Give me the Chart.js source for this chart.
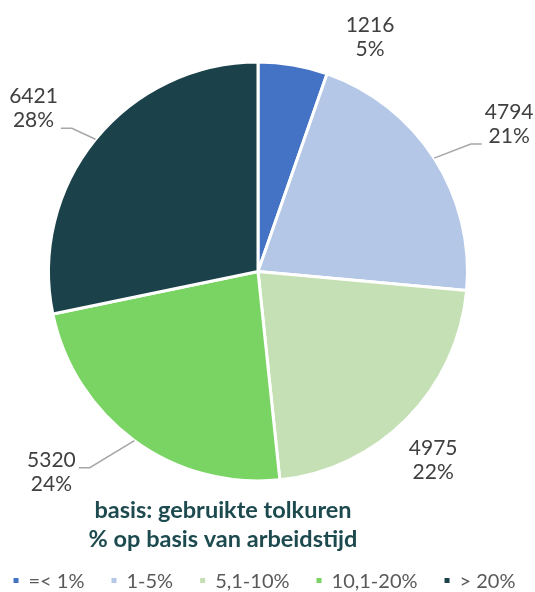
<!DOCTYPE html>
<html>
<head>
<meta charset="utf-8">
<script src="https://cdn.jsdelivr.net/npm/chart.js@4"></script>
<style>
  html, body { margin: 0; padding: 0; background: #fff; }
</style>
</head>
<body>
<canvas id="pieChart" width="535" height="592"></canvas>
<script>
const categories = ['=< 1%', '1-5%', '5,1-10%', '10,1-20%', '> 20%'];
const hours = [1216, 4794, 4975, 5320, 6421];
const shares = ['5%', '21%', '22%', '24%', '28%'];
const colors = ['#4472C4', '#B4C7E7', '#C5E0B4', '#7AD464', '#1B424A'];
const titleLines = ['basis: gebruikte tolkuren', '% op basis van arbeidstijd'];

// label offsets from the slice's outer edge (dragged labels), leader = y of the elbow or null
const labelShift = [
  { dx: 77, dy: -28, leader: null },
  { dx: 75, dy: -34, leader: 20 },
  { dx: 26, dy: 42, leader: null },
  { dx: -83, dy: 32, leader: -5 },
  { dx: -62, dy: -31, leader: 20 }
];

const sliceLabels = {
  id: 'sliceLabels',
  afterDraw(chart) {
    const ctx = chart.ctx;
    const values = chart.data.datasets[0].data;
    const arcs = chart.getDatasetMeta(0).data;
    ctx.save();
    ctx.font = '21px Lato';
    ctx.fillStyle = '#404040';
    ctx.textAlign = 'center';
    ctx.textBaseline = 'middle';
    arcs.forEach((arc, i) => {
      const p = arc.getProps(['x', 'y', 'startAngle', 'endAngle', 'outerRadius'], true);
      const mid = (p.startAngle + p.endAngle) / 2;
      const ex = p.x + Math.cos(mid) * p.outerRadius;
      const ey = p.y + Math.sin(mid) * p.outerRadius;
      const s = labelShift[i];
      const cx = ex + s.dx;
      const cy = ey + s.dy;
      const lines = [String(values[i]), shares[i]];
      ctx.fillText(lines[0], cx, cy - 12);
      ctx.fillText(lines[1], cx, cy + 12);
      if (s.leader !== null) {
        const w = Math.max(ctx.measureText(lines[0]).width, ctx.measureText(lines[1]).width);
        const side = ex > cx ? 1 : -1;
        const lx = cx + side * (w / 2 + 3);
        const ly = cy + s.leader;
        ctx.beginPath();
        ctx.moveTo(lx, ly);
        ctx.lineTo(lx + side * 11, ly);
        ctx.lineTo(ex, ey);
        ctx.strokeStyle = '#A6A6A6';
        ctx.lineWidth = 1.5;
        ctx.stroke();
      }
    });

    // title under the pie
    ctx.font = 'bold 23.5px Lato';
    ctx.fillStyle = '#1D4A4E';
    ctx.textBaseline = 'alphabetic';
    ctx.fillText(titleLines[0], 223, 518);
    ctx.fillText(titleLines[1], 223, 547);

    // legend row
    ctx.font = '20px Lato';
    ctx.textAlign = 'left';
    const widths = categories.map(t => ctx.measureText(t).width);
    const gap = 27;
    const total = widths.reduce((a, w) => a + w + 15, 0) + gap * (categories.length - 1);
    let x = 264.5 - total / 2;
    categories.forEach((t, i) => {
      ctx.fillStyle = colors[i];
      ctx.fillRect(x, 578, 5, 5);
      ctx.fillStyle = '#595959';
      ctx.fillText(t, x + 15, 588);
      x += 15 + widths[i] + gap;
    });
    ctx.restore();
  }
};

new Chart(document.getElementById('pieChart'), {
  type: 'pie',
  data: {
    labels: categories,
    datasets: [{
      data: hours,
      backgroundColor: colors,
      borderColor: '#ffffff',
      borderWidth: 3,
      hoverOffset: 0
    }]
  },
  options: {
    responsive: false,
    animation: false,
    layout: { padding: { top: 60.5, left: 36, right: 55, bottom: 109.5 } },
    plugins: {
      tooltip: { enabled: false },
      legend: { display: false }
    }
  },
  plugins: [sliceLabels]
});
</script>
</body>
</html>
